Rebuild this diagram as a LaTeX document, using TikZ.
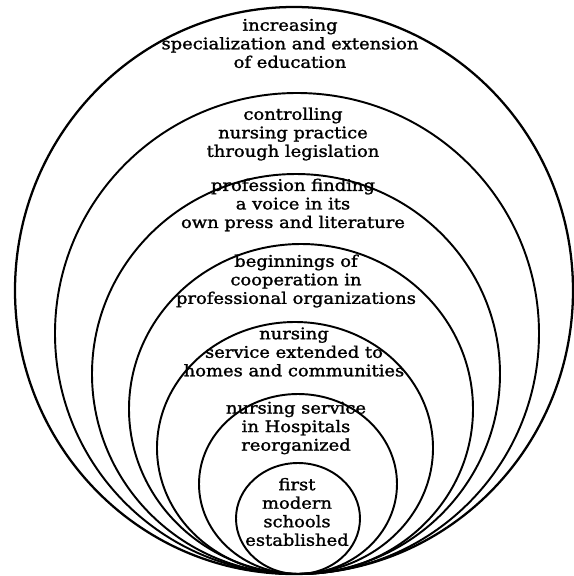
\documentclass[tikz,border=0pt]{standalone}
\usepackage{fontspec}
\setmainfont{DejaVu Serif}[FakeStretch=1.12, FakeBold=1.5]

\begin{document}
\begin{tikzpicture}[
    x=0.75pt, y=-0.75pt,
    ring/.style={draw, line width=1.45pt},
    stage/.style={align=center, inner sep=0pt, font=\fontsize{12}{13.9}\selectfont}
]
    \useasboundingbox (0,0) rectangle (574,576);

    % Rings, outermost first, all touching at the bottom
    \draw[ring, line width=1.7pt] (294,290.5) ellipse [x radius=279, y radius=283.5];
    \draw[ring] (297,333.5) ellipse [x radius=242, y radius=240.5];
    \draw[ring] (296,374) ellipse [x radius=204, y radius=200];
    \draw[ring] (301,409) ellipse [x radius=172, y radius=165];
    \draw[ring] (295,448) ellipse [x radius=138, y radius=126];
    \draw[ring] (298,484) ellipse [x radius=99, y radius=90];
    \draw[ring] (298,518.5) ellipse [x radius=62, y radius=55.5];

    % Stage texts
    \node[stage] (education) at (290,43.5) {increasing\\specialization and extension\\of education};
    \node[stage] (legislation) at (293,134) {controlling\\nursing practice\\through legislation};
    \node[stage] (press) at (293,205) {profession finding\\a voice in its\\own press and literature};
    \node[stage] (organizations) at (296,281) {beginnings of\\cooperation in\\professional organizations};
    \node[stage] (communities) at (294,352) {nursing\\service extended to\\homes and communities};
    \node[stage] (hospitals) at (296,428) {nursing service\\in Hospitals\\reorganized};
    \node[stage] (schools) at (297,512) {first\\modern\\schools\\established};
\end{tikzpicture}
\end{document}
